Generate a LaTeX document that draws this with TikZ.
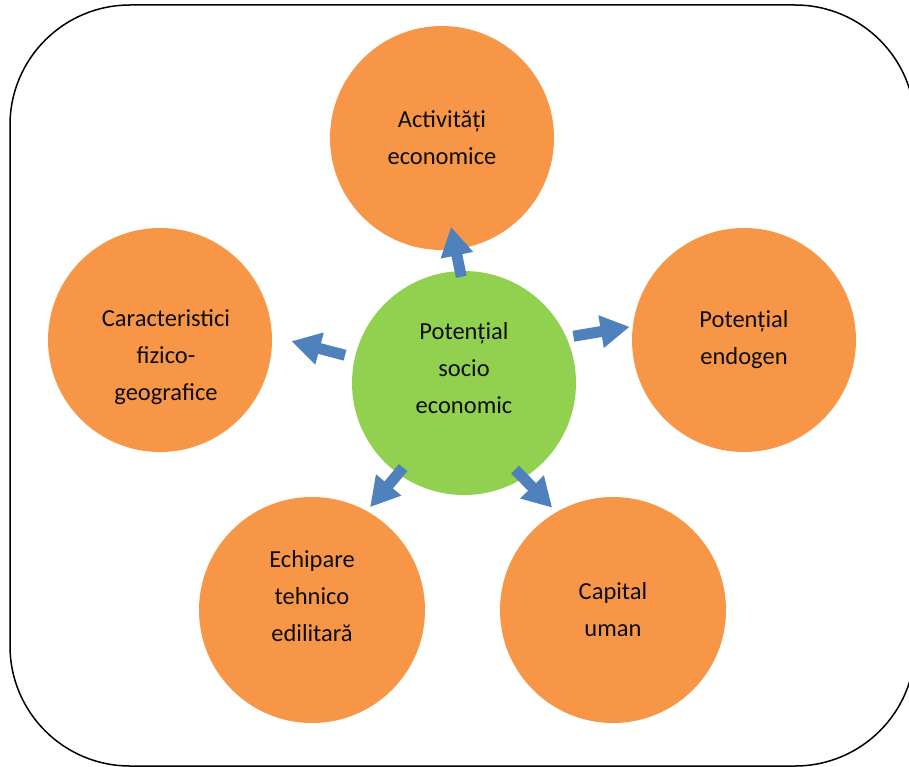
\documentclass[tikz,border=0pt]{standalone}
\usepackage{fontspec}
\setmainfont{Carlito}
\usetikzlibrary{arrows.meta}

\definecolor{bubbleorange}{HTML}{F79646}
\definecolor{bubblegreen}{HTML}{92D050}
\definecolor{spokeblue}{HTML}{4F81BD}

\tikzset{
  bubble/.style={circle, fill=#1, draw=none, minimum size=224pt, inner sep=0pt},
  txt/.style={align=center, font=\fontsize{24.5}{37}\selectfont, text=black!95},
  spoke/.style={draw=spokeblue, line width=11pt, -{Triangle[width=31pt,length=29pt]}}
}

\begin{document}
\begin{tikzpicture}[x=1pt, y=-1pt]
  % frame of the picture, the right side runs off the page
  \useasboundingbox (0,0) rectangle (909,767);
  \clip (0,0) rectangle (909,767);
  \draw[line width=1.5pt, rounded corners=120pt] (10,5) rectangle (915,766);

  % the centre and the five outer bubbles
  \node[bubble=bubblegreen, label={[txt,yshift=15pt]center:Potențial\\socio\\economic}] (pot) at (464,383) {};
  \node[bubble=bubbleorange, label={[txt]center:Activități\\economice}] (act) at (442,138) {};
  \node[bubble=bubbleorange, label={[txt]center:Potențial\\endogen}] (endo) at (744,340) {};
  \node[bubble=bubbleorange, label={[txt,xshift=6pt,yshift=-17pt]center:Caracteristici\\fizico-\\geografice}] (fiz) at (160,340) {};
  \node[bubble=bubbleorange, minimum size=226pt, label={[txt,yshift=14pt]center:Echipare\\tehnico\\edilitară}] (ech) at (312,610) {};
  \node[bubble=bubbleorange, minimum size=226pt, label={[txt]center:Capital\\uman}] (cap) at (613,610) {};

  % arrows going out of the centre
  \draw[spoke, shorten <=-6pt, shorten >=-23pt] (pot.92) -- (act.-83);
  \draw[spoke, shorten <=7pt, shorten >=3pt] (pot.24) -- (endo.173);
  \draw[spoke, shorten <=10pt, shorten >=20pt] (pot.167) -- (fiz.2);
  \draw[spoke, shorten <=-8pt, shorten >=5pt] (pot.-126) -- (ech.61);
  \draw[spoke, shorten <=-12pt, shorten >=6pt] (pot.-58) -- (cap.120);
\end{tikzpicture}
\end{document}
